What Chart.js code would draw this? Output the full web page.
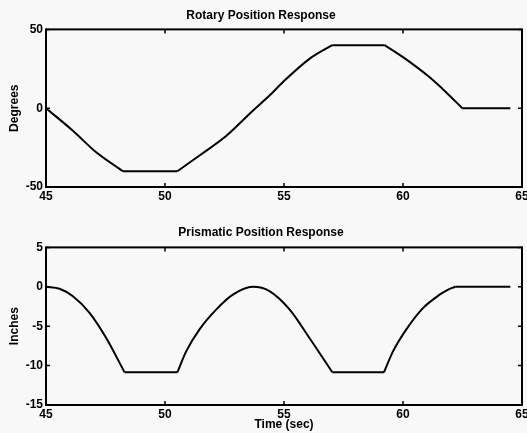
<!DOCTYPE html>
<html>
<head>
<meta charset="utf-8">
<script src="https://cdn.jsdelivr.net/npm/chart.js@4/dist/chart.umd.min.js"></script>
<style>
  html, body { margin: 0; padding: 0; background: #f7f8f7; }
  #wrap { position: relative; width: 527px; height: 433px; overflow: hidden; }
  .box { position: absolute; left: 0; width: 527px; }
  #b1 { top: 0; height: 216px; }
  #b2 { top: 216px; height: 217px; }
</style>
</head>
<body>
<div id="wrap">
  <div class="box" id="b1"><canvas id="c1"></canvas></div>
  <div class="box" id="b2"><canvas id="c2"></canvas></div>
</div>
<script>
// ---- data ----
const timeTicks = [45, 50, 55, 60, 65];
const rotTicks = [-50, 0, 50];
const priTicks = [-15, -10, -5, 0, 5];

const timeRot = [45, 46.13, 47.11, 48.23, 50.52, 51.45, 52.58, 53.69, 54.39, 54.95, 56.07, 57.03, 59.23, 60.0, 61.12, 61.82, 62.49, 64.51];
const rotDeg  = [0, -14.3, -28, -40, -40, -30, -17.5, -1.6, 8, 16.5, 31.3, 40, 40, 32.4, 19.6, 10, 0, 0];

const timePri = [45, 45.57, 46.13, 46.83, 47.53, 48.30, 50.52, 50.89, 51.45, 52.15, 52.85, 53.69, 54.39, 55.24, 56.07, 57.03, 59.2, 59.58, 60.14, 60.84, 61.54, 61.9, 62.2, 64.51];
const priIn   = [0, -0.25, -1.2, -3.3, -6.5, -10.85, -10.85, -8.2, -5.4, -2.9, -1.0, 0, -0.55, -2.9, -6.5, -10.85, -10.85, -8.2, -5.4, -2.7, -1.0, -0.35, 0, 0];

const FONT = "'Liberation Sans', Arial, Helvetica, sans-serif";

// split a trace into pieces at the corners where a flat stretch begins or ends,
// so that the smooth interpolation keeps those corners sharp
function splitAtFlats(times, values) {
  const pieces = [];
  let cur = [{ x: times[0], y: values[0] }];
  for (let i = 1; i < times.length; i++) {
    cur.push({ x: times[i], y: values[i] });
    if (i < times.length - 1) {
      const flatPrev = values[i] === values[i - 1];
      const flatNext = values[i + 1] === values[i];
      if (flatPrev !== flatNext) {
        pieces.push(cur);
        cur = [{ x: times[i], y: values[i] }];
      }
    }
  }
  pieces.push(cur);
  return pieces;
}

const framePlugin = {
  id: 'frame',
  afterDatasetsDraw(chart) {
    const { ctx, chartArea: a, scales: { x, y } } = chart;
    ctx.save();
    ctx.strokeStyle = '#000';
    ctx.lineWidth = 2;
    ctx.strokeRect(a.left, a.top, a.right - a.left, a.bottom - a.top);
    ctx.lineWidth = 1.5;
    ctx.beginPath();
    x.ticks.forEach(t => {
      const px = x.getPixelForValue(t.value);
      ctx.moveTo(px, a.bottom); ctx.lineTo(px, a.bottom - 4);
      ctx.moveTo(px, a.top); ctx.lineTo(px, a.top + 4);
    });
    y.ticks.forEach(t => {
      const py = y.getPixelForValue(t.value);
      ctx.moveTo(a.left, py); ctx.lineTo(a.left + 4, py);
      ctx.moveTo(a.right, py); ctx.lineTo(a.right - 4, py);
    });
    ctx.stroke();
    ctx.restore();
  }
};

function makeChart(id, title, times, values, yTicks, yTitle, xTitle, titlePad, xHeight) {
  const datasets = splitAtFlats(times, values).map(piece => ({
    data: piece,
    borderColor: '#000',
    borderWidth: 2,
    pointRadius: 0,
    fill: false,
    cubicInterpolationMode: 'monotone'
  }));
  return new Chart(document.getElementById(id), {
    type: 'line',
    data: { datasets },
    options: {
      responsive: true,
      maintainAspectRatio: false,
      animation: false,
      layout: { padding: { left: 0, right: 5, top: 0, bottom: 0 } },
      plugins: {
        legend: { display: false },
        tooltip: { enabled: false },
        title: {
          display: true,
          text: title,
          color: '#000',
          font: { family: FONT, size: 12, weight: 'bold', lineHeight: 1.2 },
          padding: titlePad
        }
      },
      scales: {
        x: {
          type: 'linear',
          min: timeTicks[0],
          max: timeTicks[timeTicks.length - 1],
          afterBuildTicks(s) { s.ticks = timeTicks.map(v => ({ value: v })); },
          afterFit(s) { s.height = xHeight; s.paddingLeft = 0; s.paddingRight = 0; },
          grid: { display: false, drawTicks: false },
          border: { display: false },
          ticks: {
            color: '#000', padding: 2, maxRotation: 0, autoSkip: false,
            font: { family: FONT, size: 12, weight: 'bold' }
          },
          title: {
            display: !!xTitle, text: xTitle || '', color: '#000',
            padding: { top: 0, bottom: 1 },
            font: { family: FONT, size: 12, weight: 'bold', lineHeight: 1.2 }
          }
        },
        y: {
          min: yTicks[0],
          max: yTicks[yTicks.length - 1],
          afterBuildTicks(s) { s.ticks = yTicks.map(v => ({ value: v })); },
          afterFit(s) { s.width = 46; s.paddingTop = 0; s.paddingBottom = 0; },
          grid: { display: false, drawTicks: false },
          border: { display: false },
          ticks: {
            color: '#000', padding: 3, autoSkip: false,
            font: { family: FONT, size: 12, weight: 'bold' }
          },
          title: {
            display: true, text: yTitle, color: '#000',
            padding: { top: 7, bottom: 0 },
            font: { family: FONT, size: 12, weight: 'bold', lineHeight: 1.2 }
          }
        }
      }
    },
    plugins: [framePlugin]
  });
}

makeChart('c1', 'Rotary Position Response', timeRot, rotDeg, rotTicks, 'Degrees', null, { top: 8, bottom: 7 }, 29);
makeChart('c2', 'Prismatic Position Response', timePri, priIn, priTicks, 'Inches', 'Time (sec)', { top: 9, bottom: 8 }, 28);
</script>
</body>
</html>
